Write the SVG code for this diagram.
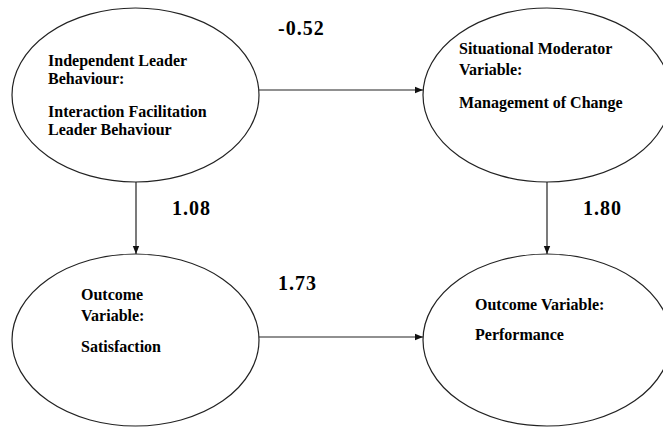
<svg xmlns="http://www.w3.org/2000/svg" width="663" height="428" viewBox="0 0 663 428">
  <style>
    .node { fill: #ffffff; stroke: #222222; stroke-width: 1.2; }
    .lbl { font-family: "Liberation Serif", "Times New Roman", serif; font-weight: bold; font-size: 16px; fill: #000000; }
    .coef { font-family: "Liberation Serif", "Times New Roman", serif; font-weight: bold; font-size: 20px; letter-spacing: 1px; fill: #000000; }
    .edge { stroke: #222222; stroke-width: 1.2; fill: none; marker-end: url(#arrow); }
  </style>
  <defs>
    <marker id="arrow" markerWidth="8" markerHeight="8" refX="8" refY="4" orient="auto" markerUnits="userSpaceOnUse">
      <path d="M0,0.8 L8,4 L0,7.2 Z" fill="#111111"/>
    </marker>
  </defs>
  <rect width="663" height="428" fill="#ffffff"/>

  <!-- path connectors -->
  <g id="connectors">
    <line class="edge" x1="259" y1="90" x2="423" y2="90"/>
    <line class="edge" x1="136" y1="182" x2="136" y2="254"/>
    <line class="edge" x1="547" y1="182" x2="547" y2="254"/>
    <line class="edge" x1="259" y1="337" x2="423" y2="337"/>
  </g>

  <!-- path coefficients -->
  <g id="coefficients">
    <text class="coef" x="278" y="35">-0.52</text>
    <text class="coef" x="172" y="215">1.08</text>
    <text class="coef" x="583" y="215">1.80</text>
    <text class="coef" x="278" y="290">1.73</text>
  </g>

  <g id="independent">
    <ellipse class="node" cx="135.5" cy="95" rx="123.5" ry="87"/>
    <text class="lbl" x="48" y="66">Independent Leader</text>
    <text class="lbl" x="48" y="84">Behaviour:</text>
    <text class="lbl" x="48" y="117">Interaction Facilitation</text>
    <text class="lbl" x="48" y="135">Leader Behaviour</text>
  </g>

  <g id="moderator">
    <ellipse class="node" cx="547" cy="95" rx="124" ry="87"/>
    <text class="lbl" x="459" y="54">Situational Moderator</text>
    <text class="lbl" x="459" y="75">Variable:</text>
    <text class="lbl" x="459" y="108">Management of Change</text>
  </g>

  <g id="satisfaction">
    <ellipse class="node" cx="135.5" cy="340" rx="123.5" ry="86"/>
    <text class="lbl" x="81" y="300">Outcome</text>
    <text class="lbl" x="81" y="321">Variable:</text>
    <text class="lbl" x="81" y="352">Satisfaction</text>
  </g>

  <g id="performance">
    <ellipse class="node" cx="547" cy="340" rx="124" ry="86"/>
    <text class="lbl" x="475" y="310">Outcome Variable:</text>
    <text class="lbl" x="475" y="340">Performance</text>
  </g>
</svg>
